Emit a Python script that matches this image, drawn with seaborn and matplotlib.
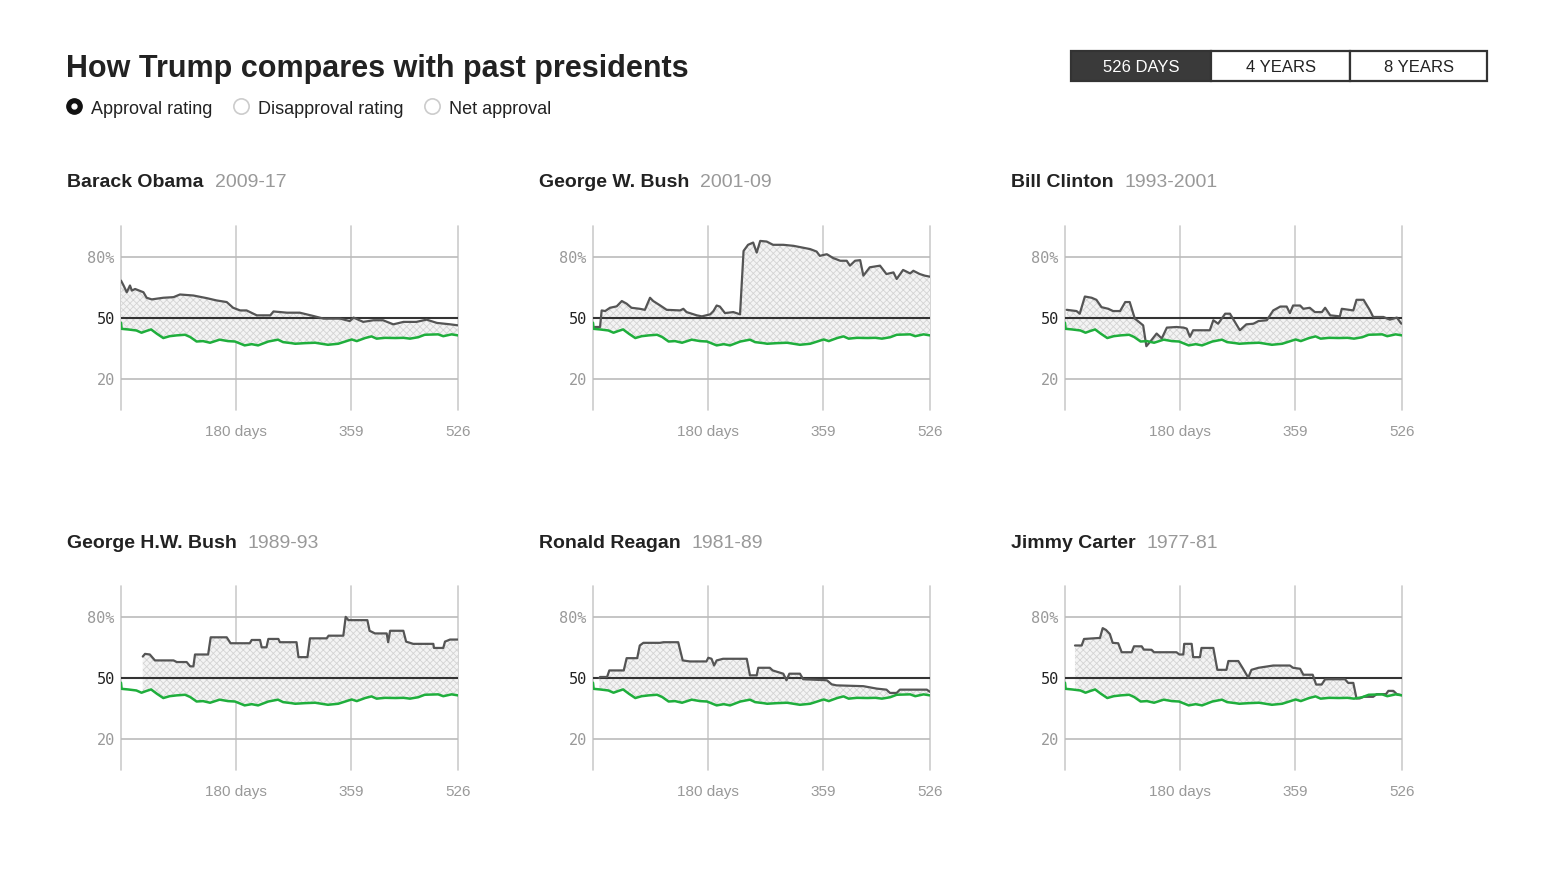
import numpy as np
import matplotlib
matplotlib.use("Agg")
import matplotlib.pyplot as plt
from matplotlib.patches import Rectangle
from matplotlib.lines import Line2D
import seaborn as sns

# Plain white style, fonts set after seaborn
sns.set_theme(style="white")
plt.rcParams['font.family'] = ['Liberation Sans', 'DejaVu Sans']
plt.rcParams['hatch.linewidth'] = 0.6

# -------------------------------
# Data
# -------------------------------
trump_days = [0, 1, 11, 24, 32, 40, 47, 56, 66, 76, 87, 100, 108, 118, 128, 139, 154, 167,
              178, 193, 204, 214, 230, 245, 253, 266, 272, 287, 303, 323, 339, 350, 360, 368,
              381, 391, 399, 412, 428, 441, 451, 464, 474, 495, 503, 516, 526]
trump_vals = [47.7, 44.7, 44.4, 43.9, 42.8, 43.7, 44.4, 42.3, 40.2, 41.1, 41.5, 41.8, 40.7,
              38.5, 38.7, 37.9, 39.4, 38.7, 38.5, 36.6, 37.2, 36.6, 38.5, 39.4, 38.2, 37.7,
              37.4, 37.7, 37.9, 36.9, 37.4, 38.5, 39.5, 38.7, 40.2, 41.0, 39.9, 40.3, 40.2,
              40.3, 39.9, 40.6, 41.8, 42.0, 41.1, 42.0, 41.5]

obama_days = [0, 4, 9, 14, 17, 22, 35, 40, 48, 66, 82, 92, 113, 134, 149, 165, 175, 186, 196,
              212, 233, 238, 259, 279, 300, 316, 342, 357, 363, 378, 394, 409, 425, 441, 461,
              477, 493, 514, 526]
obama_vals = [68.3, 65.9, 62.6, 65.9, 63.4, 64.2, 62.6, 59.9, 59.1, 59.9, 60.2, 61.5, 61.0,
              59.7, 58.6, 57.8, 55.0, 53.7, 53.7, 51.3, 51.3, 53.2, 52.6, 52.6, 51.0, 49.7,
              49.7, 48.5, 50.2, 48.1, 48.9, 48.9, 46.9, 48.1, 48.1, 49.2, 47.6, 46.9, 46.4]

bush_days = [3, 11, 13.5, 19, 26.5, 37, 45, 52.5, 60, 73, 81, 89, 94, 105, 115, 136, 141, 146,
             162, 170, 183, 188, 193, 198, 206, 219, 229.5, 235, 242, 250, 255.5, 261, 271,
             281, 297, 313, 339, 349, 354, 365, 375, 386, 396, 401, 409, 417, 422, 432, 448,
             458, 469, 474, 484, 495, 500, 510, 518, 526]
bush_vals = [45.6, 45.6, 53.7, 53.4, 55.0, 55.7, 58.3, 57.0, 55.0, 54.5, 54.0, 59.9, 58.3,
             56.1, 54.0, 53.7, 54.5, 52.9, 51.3, 50.8, 51.8, 53.4, 56.1, 55.6, 52.4, 52.9,
             51.8, 82.8, 85.8, 86.9, 82.0, 87.7, 87.4, 85.8, 85.8, 85.3, 83.7, 82.5, 80.4,
             81.2, 79.3, 78.0, 78.0, 75.6, 78.0, 78.3, 70.7, 74.8, 75.6, 71.5, 72.3, 69.1,
             73.5, 71.8, 73.1, 71.5, 70.7, 70.2]

clinton_days = [2.6, 18, 23, 31, 41.6, 49, 57, 67.6, 75, 86, 94, 101, 109, 122, 127, 135, 143,
                151, 159, 174, 185, 190, 195, 200, 226, 231.5, 239, 250, 257.5, 263, 273, 283,
                294, 302, 315, 325, 336, 346, 351, 356, 367, 372, 382, 390, 401, 406, 414, 429,
                432, 450, 455, 466, 476, 481, 497, 507, 518, 525]
clinton_vals = [54.0, 53.4, 52.1, 60.5, 59.9, 58.9, 55.3, 54.5, 53.4, 53.4, 57.8, 57.8, 49.7,
                46.4, 36.2, 39.2, 42.4, 40.0, 45.3, 45.6, 45.3, 44.8, 40.8, 44.0, 44.0, 48.9,
                47.2, 52.1, 52.1, 49.2, 44.0, 46.9, 47.2, 48.5, 48.9, 53.7, 55.6, 55.6, 52.4,
                56.1, 56.1, 54.5, 55.0, 52.9, 52.9, 55.0, 51.3, 50.8, 54.5, 53.7, 58.9, 58.9,
                53.7, 50.5, 50.5, 49.2, 50.2, 47.2]

hw_days = [34, 37.5, 45, 53, 82, 87, 102.5, 108, 113, 115.5, 136, 140, 165, 171, 201, 204, 217,
           219.6, 227, 230, 245.6, 248, 274, 277, 291, 295, 321, 324, 347, 350.7, 355, 384.5,
           388, 396.5, 414.7, 417, 420, 440.7, 445, 456, 487.5, 488.5, 503, 505.7, 513.5, 526]
hw_vals = [60.5, 61.8, 61.5, 58.6, 58.6, 57.8, 57.8, 55.7, 55.7, 61.5, 61.5, 69.9, 69.9, 67.0,
           67.0, 68.6, 68.6, 65.0, 65.0, 69.1, 69.1, 67.5, 67.5, 60.2, 60.2, 69.4, 69.4, 70.7,
           70.7, 79.9, 78.3, 78.3, 73.1, 71.8, 71.8, 67.5, 73.1, 73.1, 67.8, 66.7, 66.7, 64.7,
           64.7, 67.8, 68.8, 68.8]

reagan_days = [10, 11, 22, 25.5, 48, 52.5, 69, 73, 78.6, 104.6, 110, 133, 140, 151, 177, 180,
               185, 189, 193, 203, 240, 245, 255.5, 258, 276, 280.4, 297, 302, 306.5, 323, 328,
               365, 372.5, 380, 422, 443, 458, 463.6, 474, 479, 521, 526]
reagan_vals = [50.0, 50.5, 50.5, 53.7, 53.7, 59.7, 59.7, 65.9, 67.2, 67.2, 67.5, 67.5, 58.6,
               58.1, 58.1, 59.9, 59.4, 56.1, 58.6, 59.4, 59.4, 51.3, 51.3, 55.0, 55.0, 53.7,
               52.1, 48.9, 52.1, 52.1, 49.4, 48.9, 46.9, 46.4, 46.0, 44.8, 44.3, 42.7, 42.7,
               44.3, 44.3, 43.2]

carter_days = [15.6, 26, 29.7, 54.6, 58.8, 64, 70, 74.4, 83, 88.5, 104, 107.7, 119.7, 123, 135,
               139, 174, 178.5, 184.7, 186, 197.7, 200, 210.7, 213, 231.5, 237.8, 252, 255,
               270.5, 277, 286, 291, 302, 325, 351, 356, 367, 372, 386.6, 392, 400.6, 406, 437,
               442, 450, 455, 460, 465.7, 481, 486.5, 501, 504.7, 512.5, 518, 525.5]
carter_vals = [65.9, 65.9, 69.1, 69.6, 74.4, 73.5, 71.5, 67.2, 67.0, 62.6, 62.6, 65.5, 65.5,
               63.9, 63.8, 62.6, 62.6, 61.5, 61.5, 66.7, 66.7, 60.2, 60.2, 64.7, 64.7, 54.0,
               54.0, 58.3, 58.3, 55.0, 50.2, 54.0, 55.0, 56.1, 56.1, 55.0, 54.5, 51.6, 51.6,
               46.8, 46.8, 49.4, 49.4, 47.6, 47.6, 40.0, 40.0, 40.8, 40.8, 42.1, 42.1, 43.7,
               43.7, 42.1, 41.6]

names = ["Barack Obama", "George W. Bush", "Bill Clinton",
         "George H.W. Bush", "Ronald Reagan", "Jimmy Carter"]
terms = ["2009-17", "2001-09", "1993-2001", "1989-93", "1981-89", "1977-81"]
pres_days = [obama_days, bush_days, clinton_days, hw_days, reagan_days, carter_days]
pres_vals = [obama_vals, bush_vals, clinton_vals, hw_vals, reagan_vals, carter_vals]

x_ticks = [180, 359, 526]
x_labels = ["180 days", "359", "526"]
y_ticks = [20, 50, 80]
y_labels = ["20", "50", "80%"]

radio_labels = ["Approval rating", "Disapproval rating", "Net approval"]
button_labels = ["526 DAYS", "4 YEARS", "8 YEARS"]

GREEN = '#1fae3c'
GRAY_LINE = '#555555'

# -------------------------------
# Figure and helpers
# -------------------------------
W, H = 1544, 884
fig = plt.figure(figsize=(W / 100, H / 100), dpi=100)
fig.patch.set_facecolor('white')


def fx(px):
    return px / W


def fy(py):
    return 1 - py / H


# Title
fig.text(fx(66), fy(69), "How Trump compares with past presidents",
         fontsize=22, weight='bold', color='#222222', va='center')

# Radio buttons
radio_x = [74, 241, 432]
for i, (rx, lab) in enumerate(zip(radio_x, radio_labels)):
    if i == 0:
        fig.add_artist(Line2D([fx(rx)], [fy(106)], marker='o', ms=11, mfc='#111111',
                              mec='#111111', transform=fig.transFigure))
        fig.add_artist(Line2D([fx(rx)], [fy(106)], marker='o', ms=3.5, mfc='white',
                              mec='white', transform=fig.transFigure))
    else:
        fig.add_artist(Line2D([fx(rx)], [fy(106)], marker='o', ms=11, mfc='white',
                              mec='#cccccc', mew=1.2, transform=fig.transFigure))
    fig.text(fx(rx + 17), fy(109), lab, fontsize=13, color='#222222', va='center')

# Segmented buttons
edges = [1071, 1211, 1350, 1487]
for i, lab in enumerate(button_labels):
    sel = i == 0
    fig.add_artist(Rectangle((fx(edges[i]), fy(81)), fx(edges[i + 1] - edges[i]), 30 / H,
                             transform=fig.transFigure,
                             facecolor='#3a3a3a' if sel else 'white',
                             edgecolor='#333333', lw=1.6))
    fig.text(fx((edges[i] + edges[i + 1]) / 2), fy(67), lab, fontsize=12,
             color='white' if sel else '#222222', ha='center', va='center')

# -------------------------------
# Small multiples
# -------------------------------
col_left = [121, 593, 1065]
row_top = [226, 586]
title_y = [183, 544]

for k in range(6):
    r, c = divmod(k, 3)
    ax = fig.add_axes([fx(col_left[c]), fy(row_top[r] + 184), fx(337), 184 / H])
    ax.set_xlim(0, 526)
    ax.set_ylim(5, 95)

    # grid
    for d in [0] + x_ticks:
        ax.axvline(d, color='#cccccc', lw=1.2, clip_on=False, zorder=1)
    for v in (20, 80):
        ax.axhline(v, color='#bbbbbb', lw=1.2, zorder=1)

    # hatched area between past president and Trump
    d = np.array(pres_days[k], dtype=float)
    grid = np.union1d(d, np.array(trump_days, dtype=float))
    grid = grid[(grid >= d.min()) & (grid <= d.max())]
    p_on = np.interp(grid, d, pres_vals[k])
    t_on = np.interp(grid, trump_days, trump_vals)
    ax.fill_between(grid, p_on, t_on, facecolor='#f4f4f4', edgecolor='#d4d4d4',
                    hatch='xxxxx', lw=0, zorder=2)

    ax.axhline(50, color='#333333', lw=1.5, zorder=3)

    sns.lineplot(x=trump_days, y=trump_vals, color=GREEN, lw=1.8, ax=ax,
                 sort=False, estimator=None, zorder=5)
    sns.lineplot(x=pres_days[k], y=pres_vals[k], color=GRAY_LINE, lw=1.6, ax=ax,
                 sort=False, estimator=None, zorder=4)

    ax.set_xticks(x_ticks, x_labels)
    ax.set_yticks(y_ticks, y_labels)
    ax.tick_params(axis='x', length=0, pad=11, labelsize=11, labelcolor='#999999')
    ax.tick_params(axis='y', length=0, pad=4.5, labelsize=11)
    for lbl in ax.get_yticklabels():
        lbl.set_family('DejaVu Sans Mono')
        lbl.set_color('#222222' if lbl.get_text() == "50" else '#999999')
    for s in ax.spines.values():
        s.set_visible(False)
    ax.set_xlabel('')
    ax.set_ylabel('')
    ax.set_facecolor('none')

    # panel heading: name + term
    t = fig.text(fx(col_left[c] - 54), fy(title_y[r]), names[k], fontsize=14,
                 weight='bold', color='#222222', va='center')
    ax.annotate(terms[k], xy=(1, 0), xycoords=t, xytext=(8, 0),
                textcoords='offset points', va='bottom', fontsize=14,
                color='#999999', annotation_clip=False)

fig.savefig("out.png", dpi=100)
